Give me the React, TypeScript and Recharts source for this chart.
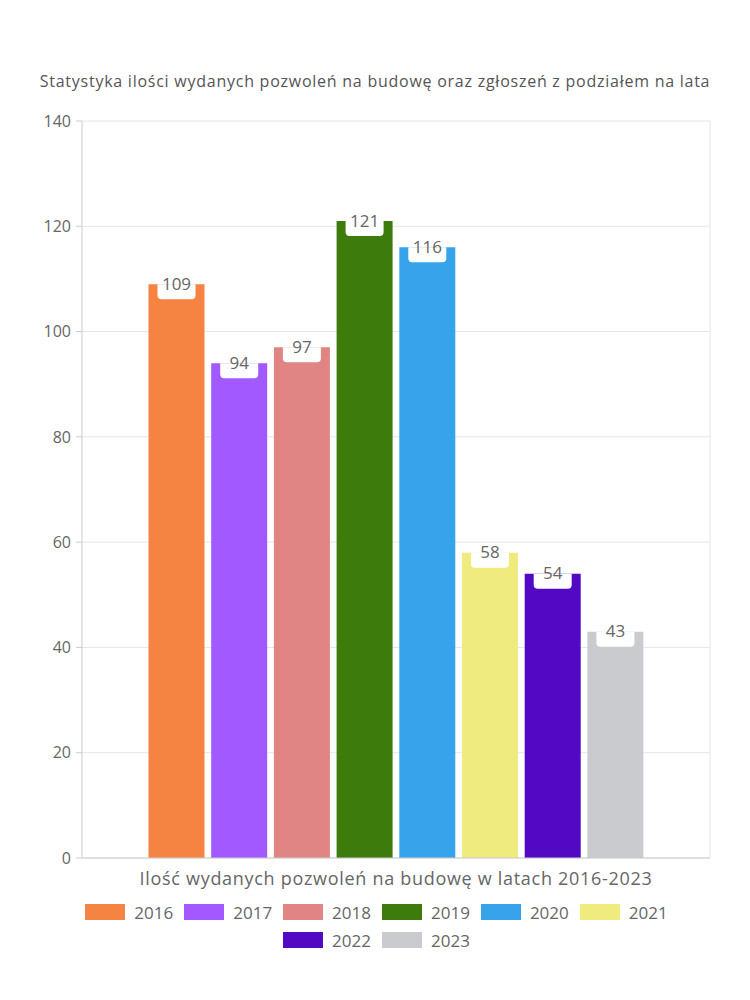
import React from 'react';
import { BarChart, Bar, XAxis, YAxis, CartesianGrid, Legend, LabelList } from 'recharts';

const title = 'Statystyka ilości wydanych pozwoleń na budowę oraz zgłoszeń z podziałem na lata';
const categories = ['Ilość wydanych pozwoleń na budowę w latach 2016-2023'];
const years = ['2016', '2017', '2018', '2019', '2020', '2021', '2022', '2023'];
const values = [109, 94, 97, 121, 116, 58, 54, 43];
const colors = ['#F58442', '#A259FF', '#E18484', '#3E7B0D', '#37A3EA', '#F0EB7F', '#5309C3', '#CACBCF'];
const yTicks = [0, 20, 40, 60, 80, 100, 120, 140];
const edgeTicks = [0, 1];

const FONT = '"Open Sans", sans-serif';

const data = categories.map((name) => {
  const row: Record<string, string | number> = { name };
  years.forEach((y, i) => {
    row[y] = values[i];
  });
  return row;
});

const renderLabel = (props: any) => {
  const { x, y, width, value } = props;
  const cx = Number(x) + Number(width) / 2;
  const top = Number(y);
  const bw = 38;
  const bh = 15;
  const r = 4;
  const l = cx - bw / 2;
  const rr = cx + bw / 2;
  const d = `M ${l} ${top} L ${rr} ${top} L ${rr} ${top + bh - r} Q ${rr} ${top + bh} ${rr - r} ${top + bh} L ${l + r} ${top + bh} Q ${l} ${top + bh} ${l} ${top + bh - r} Z`;
  return (
    <g>
      <path d={d} fill="#ffffff" />
      <text
        x={cx}
        y={top - 1}
        textAnchor="middle"
        dominantBaseline="central"
        fontSize={17}
        fontFamily={FONT}
        fill="#666666"
      >
        {value}
      </text>
    </g>
  );
};

const renderLegend = (props: any) => {
  const payload = props.payload || [];
  return (
    <div style={{ height: 56, display: 'flex', justifyContent: 'center' }}>
      <div
        style={{
          width: 620,
          display: 'flex',
          flexWrap: 'wrap',
          justifyContent: 'center',
          alignContent: 'flex-start',
          columnGap: 11,
          paddingLeft: 3,
        }}
      >
        {payload.map((entry: any) => (
          <div
            key={entry.value}
            style={{
              display: 'flex',
              alignItems: 'center',
              height: 28,
              fontFamily: FONT,
              fontSize: 17,
              color: '#666666',
            }}
          >
            <span
              style={{
                display: 'inline-block',
                width: 40,
                height: 16,
                background: entry.color,
                marginRight: 9,
              }}
            />
            <span>{entry.value}</span>
          </div>
        ))}
      </div>
    </div>
  );
};

export default function App() {
  return (
    <div style={{ position: 'relative', width: 734, height: 984 }}>
      <div
        style={{
          position: 'absolute',
          top: 62,
          left: 0,
          width: 734,
          textAlign: 'center',
          lineHeight: '22px',
          fontFamily: FONT,
          fontSize: 16,
          letterSpacing: 0.75,
          color: '#555555',
        }}
      >
        {title}
      </div>
      <BarChart
        width={734}
        height={984}
        data={data}
        margin={{ top: 113, right: 32, bottom: 38, left: 0 }}
        barCategoryGap={66.5}
        barGap={6.7}
      >
        <CartesianGrid stroke="#e6e6e6" vertical={true} verticalPoints={[702]} />
        <XAxis
          xAxisId="edges"
          type="number"
          domain={[0, 1]}
          ticks={edgeTicks}
          height={0}
          tick={false}
          axisLine={false}
          tickLine={{ stroke: '#cccccc' }}
          tickSize={8}
        />
        <XAxis
          dataKey="name"
          height={40}
          tickLine={false}
          axisLine={{ stroke: '#cccccc' }}
          tickSize={6}
          tickMargin={8}
          tick={{ fill: '#666666', fontSize: 18, fontFamily: FONT, letterSpacing: 0.7 }}
        />
        <YAxis
          width={74}
          domain={[0, 140]}
          ticks={yTicks}
          interval={0}
          axisLine={{ stroke: '#cccccc' }}
          tickLine={{ stroke: '#cccccc' }}
          tickSize={6}
          tickMargin={5}
          tick={{ fill: '#666666', fontSize: 16, fontFamily: FONT }}
        />
        <Legend verticalAlign="bottom" content={renderLegend} wrapperStyle={{ left: 0, width: 734 }} />
        {years.map((y, i) => (
          <Bar key={y} dataKey={y} name={y} fill={colors[i]} isAnimationActive={false}>
            <LabelList dataKey={y} content={renderLabel} />
          </Bar>
        ))}
      </BarChart>
    </div>
  );
}
